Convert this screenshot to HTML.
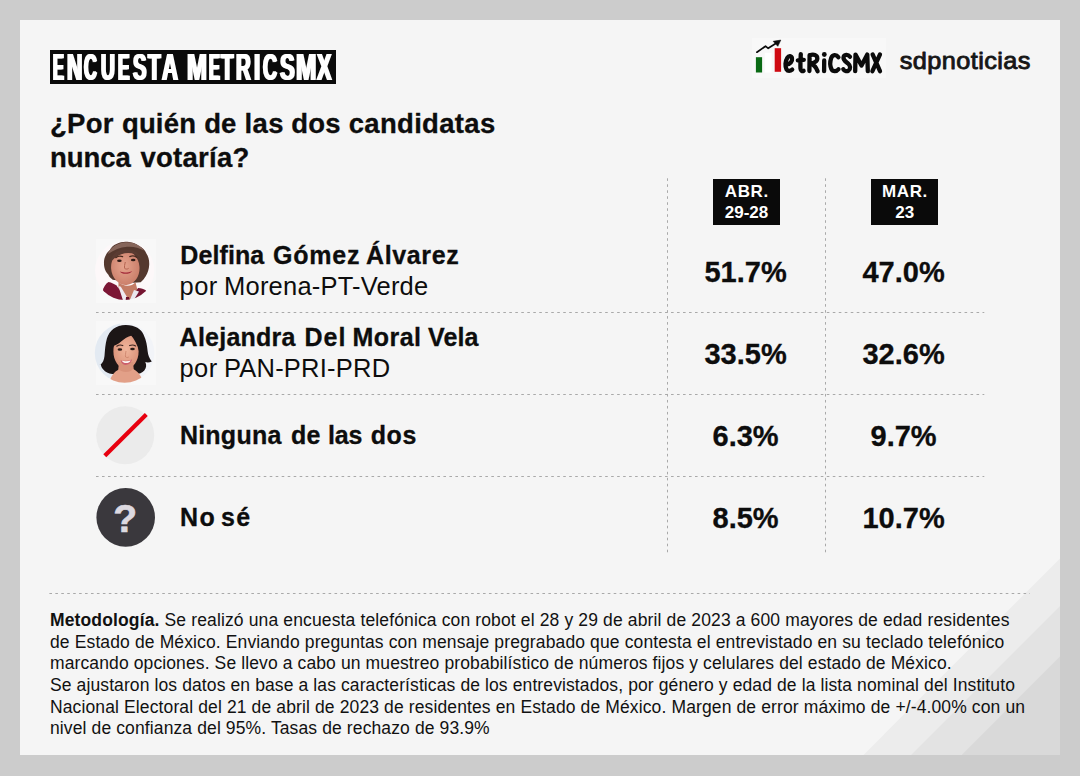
<!DOCTYPE html>
<html lang="es">
<head>
<meta charset="utf-8">
<title>Encuesta MetricsMX</title>
<style>
*{margin:0;padding:0;box-sizing:border-box}
html,body{width:1080px;height:776px;overflow:hidden;background:#cccccc}
body{font-family:"Liberation Sans",sans-serif;color:#0d0d0d;position:relative}
#panel{position:absolute;left:20px;top:20px;width:1040px;height:735px;background:#f5f5f5;overflow:hidden}
#stripes{position:absolute;left:0;top:0;width:1040px;height:735px}
#titlebox{position:absolute;left:50px;top:50px;width:286px;height:34px;background:#0a0a0a;overflow:hidden}
.tw{position:absolute;font-weight:bold;font-size:37px;line-height:1;color:#fff;white-space:nowrap;transform-origin:0 0}
.w{position:absolute;white-space:nowrap;line-height:1}
.wb{font-weight:bold;-webkit-text-stroke:0.3px #0d0d0d}
.wn{font-weight:normal}
#lines{position:absolute;left:0;top:0;width:1080px;height:776px}
.tag{position:absolute;top:178.6px;width:67px;height:46px;background:#0a0a0a;color:#fff;font-weight:bold;font-size:17px;line-height:21.1px;text-align:center;padding-top:2px}
.tag i{font-style:normal;letter-spacing:0.6px;margin-right:-0.6px}
.val{position:absolute;width:140px;text-align:center;font-weight:bold;font-size:29px;line-height:34px;white-space:nowrap;-webkit-text-stroke:0.3px #0d0d0d}
.c1{left:675.6px}
.c2{left:833.6px}
#metod{position:absolute;left:50px;top:609.9px;font-size:17.5px;line-height:21.65px;white-space:nowrap;color:#111;letter-spacing:0.12px}
#metod span{display:block}
</style>
</head>
<body>
<div id="panel">
<svg id="stripes" viewBox="20 20 1040 735">
<polygon points="1060,558.4 1060,755 863.4,755" fill="#ececec"/>
<polygon points="1060,606 1060,755 911,755" fill="#e3e3e3"/>
<polygon points="1060,656.6 1060,755 961.6,755" fill="#d9d9d9"/>
</svg>
</div>

<div id="titlebox"><span class="tw" style="left:3.38px;top:-1.34px;transform:scaleX(0.439);text-shadow:2.16px 0 #fff,-2.16px 0 #fff">E</span><span class="tw" style="left:16.67px;top:-1.34px;transform:scaleX(0.574);text-shadow:1.66px 0 #fff,-1.66px 0 #fff">N</span><span class="tw" style="left:34.35px;top:-1.34px;transform:scaleX(0.479);text-shadow:1.98px 0 #fff,-1.98px 0 #fff">C</span><span class="tw" style="left:50.80px;top:-1.34px;transform:scaleX(0.519);text-shadow:1.83px 0 #fff,-1.83px 0 #fff">U</span><span class="tw" style="left:68.12px;top:-1.34px;transform:scaleX(0.467);text-shadow:2.03px 0 #fff,-2.03px 0 #fff">E</span><span class="tw" style="left:83.19px;top:-1.34px;transform:scaleX(0.545);text-shadow:1.74px 0 #fff,-1.74px 0 #fff">S</span><span class="tw" style="left:98.40px;top:-1.34px;transform:scaleX(0.559);text-shadow:1.70px 0 #fff,-1.70px 0 #fff">T</span><span class="tw" style="left:111.65px;top:-1.34px;transform:scaleX(0.598);text-shadow:1.59px 0 #fff,-1.59px 0 #fff">A</span><span class="tw" style="left:136.70px;top:-1.34px;transform:scaleX(0.647);text-shadow:1.47px 0 #fff,-1.47px 0 #fff">M</span><span class="tw" style="left:159.08px;top:-1.34px;transform:scaleX(0.439);text-shadow:2.16px 0 #fff,-2.16px 0 #fff">E</span><span class="tw" style="left:171.20px;top:-1.34px;transform:scaleX(0.550);text-shadow:1.73px 0 #fff,-1.73px 0 #fff">T</span><span class="tw" style="left:186.22px;top:-1.34px;transform:scaleX(0.553);text-shadow:1.72px 0 #fff,-1.72px 0 #fff">R</span><span class="tw" style="left:203.90px;top:-1.34px;transform:scaleX(0.605);text-shadow:1.57px 0 #fff,-1.57px 0 #fff">I</span><span class="tw" style="left:212.90px;top:-1.34px;transform:scaleX(0.523);text-shadow:1.82px 0 #fff,-1.82px 0 #fff">C</span><span class="tw" style="left:230.16px;top:-1.34px;transform:scaleX(0.597);text-shadow:1.59px 0 #fff,-1.59px 0 #fff">S</span><span class="tw" style="left:245.97px;top:-1.34px;transform:scaleX(0.662);text-shadow:1.44px 0 #fff,-1.44px 0 #fff">M</span><span class="tw" style="left:266.80px;top:-1.34px;transform:scaleX(0.587);text-shadow:1.62px 0 #fff,-1.62px 0 #fff">X</span>
</div>
<svg id="logo" style="position:absolute;left:0;top:0" width="1080" height="100" viewBox="0 0 1080 100">
<rect x="752" y="38" width="134" height="40" fill="#f8f8f8"/>
<rect x="755.900" y="57.200" width="6.200" height="15.300" fill="#0a6a14"/>
<rect x="764.800" y="52.800" width="6.700" height="19.700" fill="#ffffff"/>
<rect x="774.700" y="48.200" width="6.400" height="23.600" fill="#cf0a12"/>
<path d="M756.900 52.200L765.500 46.200L768.200 48.300L776.500 43" stroke="#0b0b0b" stroke-width="1.700" fill="none" stroke-linecap="round" stroke-linejoin="round"/>
<path d="M780.800 40.100L773.200 41.300L777.800 46.300z" fill="#0b0b0b" stroke="#0b0b0b" stroke-width="0.600" stroke-linejoin="round"/>
<g fill="none" stroke="#0b0b0b" stroke-width="4.300" stroke-linecap="round" stroke-linejoin="round">
<!-- e -->
<path d="M786.300 64.500C790 64.300 792.600 61.500 792 58.300C791.500 55.800 788.800 55.400 787.300 57.800C785.300 61 784.800 66.500 786.500 69.300C787.800 71.400 790.300 71.200 792.200 69.600"/>
<!-- t -->
<path d="M800.800 54.200C800.500 59.500 800.300 65 800.500 68.600C800.700 71 802.300 71.500 803.600 70.800M797.800 60.300L803.800 59.800"/>
<!-- R -->
<path d="M809.600 55.200L809.400 71M809.600 55.400C813.500 53.600 817.300 55 817.300 58.400C817.300 61.400 813.800 63 810.400 63.200C813.800 64.500 816.200 67.500 817.600 71.200"/>
<!-- i -->
<path d="M824.200 60.500L824.100 71.200"/>
<path d="M824.300 54.400L824.300 54.500" stroke-width="4.800"/>
<!-- c -->
<path d="M838.400 57.300C836.300 54.300 832.500 54.500 831.200 58C830 61.500 830 66 831.400 69C832.800 71.800 836.500 71.800 838.500 69.200"/>
<!-- S -->
<path d="M850 56.800C848 54.200 844 54.300 843.500 57.500C843.100 60.200 846 61.800 848.200 63.600C850.500 65.500 850.800 69 848.500 70.600C846.600 71.800 844.300 71 843.300 69.200"/>
<!-- M -->
<path d="M855.200 71.200L855.500 54.600L861.500 65.500L867.300 54.600L867.800 71.200"/>
<!-- X -->
<path d="M872.600 54.400L880 71.200M880 54.400L872.400 71.200"/>
</g>
<g transform="translate(899.700 68.500) scale(1.1 1)"><text x="0" y="0" font-family="Liberation Sans, sans-serif" font-size="23" fill="#161616" stroke="#161616" stroke-width="0.850" stroke-linejoin="round" textLength="118.900" lengthAdjust="spacing">sdpnoticias</text></g>
</svg>

<svg id="lines" viewBox="0 0 1080 776" fill="none" stroke="#a9a9a9" stroke-width="1" stroke-dasharray="2.6 3.39">
<path d="M667.5 178.3V553.6M825.5 178.3V553.6"/>
<path d="M96.0 312.5H984.3M96.0 394.5H984.3M96.0 476.5H984.3"/>
<path d="M49.4 593.5H1030" stroke-dasharray="2.6 3.34"/>
</svg>
<svg id="avatars" style="position:absolute;left:0;top:0" width="1080" height="776" viewBox="0 0 1080 776">
<defs>
<clipPath id="cp1"><circle cx="124.7" cy="270.4" r="29.6"/></clipPath>
<clipPath id="cp2"><circle cx="124.6" cy="353" r="29.8"/></clipPath>
<filter id="bl" x="-10%" y="-10%" width="120%" height="120%"><feGaussianBlur stdDeviation="0.55"/></filter>
<filter id="bl2" x="-20%" y="-20%" width="140%" height="140%"><feGaussianBlur stdDeviation="0.5"/></filter>
<radialGradient id="sk1" cx="0.45" cy="0.45" r="0.6"><stop offset="0" stop-color="#e6a48e"/><stop offset="1" stop-color="#c97d68"/></radialGradient>
<radialGradient id="sk2" cx="0.5" cy="0.45" r="0.6"><stop offset="0" stop-color="#f0b59b"/><stop offset="1" stop-color="#d98f76"/></radialGradient>
</defs>
<rect x="96" y="239" width="60" height="64" fill="#f8f8f8"/>
<rect x="96" y="321" width="60" height="64" fill="#f8f8f8"/>
<!-- Delfina -->
<g clip-path="url(#cp1)"><g filter="url(#bl)">
<rect x="90" y="236" width="70" height="70" fill="#fdf8f9"/>
<path d="M104.300 267c-0.800-5-0.200-9 1.600-12 1.200-2.500 2.600-3.800 4-5 1-2.500 3.500-4.800 6.500-6 3.500-1.800 7.500-2.600 11-2.200 4.500 0.200 8.500 1.700 11.500 4.300 3.500 1.500 6 4 7.500 7.500 2.200 3.300 3 7.200 2.800 11.200-0.200 4.500-1.500 8.500-3.500 11.500-1.300 2.300-3 4.300-5 6l-7 0.500-21-3c-2-1.500-3.500-3-4.300-5-2.200-2.300-3.500-4.800-4.100-7.800z" fill="#55382e"/>
<path d="M108 254c2-6 8-10.500 16-11.500 8-1 16 2 20 8-5-3-11-4.200-17-3.700-7 0.600-13 3-19 7.200z" fill="#86655a"/>
<ellipse cx="125.300" cy="267.800" rx="14.200" ry="17.200" fill="url(#sk1)" transform="rotate(-5 125.300 267.800)"/>
<path d="M110.500 262c0.500-6 4-10.500 9.500-12 5-1.500 11-1 15.500 1.500 3 1.500 5 4 5.800 7-3.500-3.500-8-5.500-13-5.500-6.500 0-12 3-17.800 9z" fill="#5a3b30"/>
<path d="M115.800 257.600c2-1.400 4.600-1.700 6.800-0.900M129.800 256.600c2.200-1 4.800-0.700 6.800 0.600" stroke="#46291f" stroke-width="1.300" fill="none" stroke-linecap="round"/>
<ellipse cx="119.400" cy="260.700" rx="2.300" ry="1.200" fill="#2e1a16"/><ellipse cx="133.200" cy="260" rx="2.300" ry="1.200" fill="#2e1a16"/>
<path d="M125.300 262c-0.500 2.500-1.200 4.800-0.600 6.400 1.100 0.900 2.800 0.900 3.900 0" stroke="#b3624f" stroke-width="1" fill="none"/>
<path d="M119.800 271.600c2.800 1.200 8.600 1.100 12.400-0.700-1.800 3.400-10 4.200-12.400 0.700z" fill="#a32a3a"/>
<path d="M118.500 282c2.200 2.600 6 3.800 9 3.800 3 0 6-1.200 8-3.600l2.500 10-10 9.500-9.500-9.500z" fill="#c47b65"/>
<path d="M102.500 291.500c1-4.500 3.200-8 6-9.500 3 0.500 6 2 8 3.500l10.500 14.500 1 3-28 0z" fill="#7c1634"/>
<path d="M138 288c3 0 6 1 8 2.500l1 6-13 7-5-1z" fill="#741330"/>
<path d="M118.500 286.500c1-0.500 2-0.500 2.500 0.500l7.500 12.500-2 3.500-3-1z" fill="#efeaf1"/>
<path d="M134 290l5 1.500-5.500 9-4.500 1.500z" fill="#e9e6ee"/>
<path d="M126 297l3 0 1.500 6-5 0z" fill="#6a1029"/>
</g></g>
<!-- Alejandra -->
<g clip-path="url(#cp2)"><g filter="url(#bl)">
<rect x="90" y="318" width="70" height="70" fill="#f2f4f8"/>
<rect x="90" y="318" width="30" height="60" fill="#e3eaf2"/>
<path d="M100 365c3-2 4-5 4.500-9 0.500-6 0.800-12 2.400-17.400 2.500-8 9-13.600 18.800-13.600 9.800 0 15.500 4.500 17.800 9.400 3 6 3.600 11.600 4.100 16.700 0.500 4 1.500 7.500 4.200 10.400-2 1-4.500 1.200-6.500 0.600 1.500 3 1 6-1 8.500-2 2.500-5.500 3.500-8 3.500l-24 0c-4-0.500-7-2-9-4.500-2-2.500-2.500-4-2.300-5.600-1 0.600-1.500 1-1 1z" fill="#1b1315"/>
<ellipse cx="126" cy="351.200" rx="12.600" ry="17.600" fill="url(#sk2)"/>
<path d="M113.200 346c0.500-8 5-14 12-14.500 4-0.300 7 1 9.500 3.500-4 0.500-8 2-11 4.500-3 2.500-6 5-10.500 6.500z" fill="#1b1315"/>
<path d="M130 334c4 1.500 7.500 5 9 11 0.300 2 0.300 4 0 6-1.500-6-4.500-12-9-17z" fill="#1b1315"/>
<path d="M119 362l14 0 1 10-16 0z" fill="#d8927a"/><path d="M109 385c1-8 4.500-13 10-15.500 1.500 1.500 4 2.500 7 2.500 3 0 5.500-1 7-3 5.500 2.500 9.500 8 10.500 16z" fill="#e2a088"/>
<path d="M116.800 346.200c1.800-1.200 4.200-1.400 6-0.600M129.600 345.600c2-0.900 4.400-0.700 6 0.400" stroke="#3b2420" stroke-width="1.100" fill="none" stroke-linecap="round"/>
<ellipse cx="119.900" cy="349.400" rx="2.300" ry="1.250" fill="#2a1a18"/><ellipse cx="132.500" cy="349.100" rx="2.300" ry="1.250" fill="#2a1a18"/>
<path d="M126 351c-0.400 2.500-0.800 4.500-0.400 6 1 0.700 2.300 0.700 3.200 0" stroke="#c98068" stroke-width="0.800" fill="none"/>
<path d="M120.500 360.200c3 1 8.500 0.800 11.500-0.600-1 3.800-4 5.400-6.200 5.400-2.300 0-4.500-1.600-5.300-4.800z" fill="#cc5f6c"/>
<path d="M121.800 360.800c2.500 0.700 6.500 0.600 9-0.300-0.800 1.800-2.800 2.600-4.600 2.600-1.800 0-3.600-0.800-4.400-2.300z" fill="#fbf3f0"/>
</g></g>
<!-- Ninguna -->
<circle cx="125.200" cy="435.200" r="29" fill="#ebebeb"/>
<path d="M104.800 455.800L146.300 414.600" stroke="#e8000f" stroke-width="4.200" fill="none"/>
<!-- No se -->
<circle cx="125.700" cy="517.400" r="29.300" fill="#3a383d"/>
<text x="125.200" y="532" text-anchor="middle" font-family="Liberation Sans, sans-serif" font-weight="bold" font-size="39" fill="#dcd9e0" stroke="#dcd9e0" stroke-width="0.700">?</text>
</svg>

<div class="tag" style="left:713px"><i>ABR.</i><br>29-28</div>
<div class="tag" style="left:871.2px"><i>MAR.</i><br>23</div>

<span class="w wb" style="left:49.91px;top:110.00px;font-size:27.5px;letter-spacing:0.313px">¿Por</span>
<span class="w wb" style="left:121.94px;top:110.00px;font-size:27.5px;letter-spacing:0.165px">quién</span>
<span class="w wb" style="left:204.24px;top:110.00px;font-size:27.5px;letter-spacing:0.052px">de</span>
<span class="w wb" style="left:244.38px;top:110.00px;font-size:27.5px;letter-spacing:0.452px">las</span>
<span class="w wb" style="left:291.14px;top:110.00px;font-size:27.5px;letter-spacing:0.242px">dos</span>
<span class="w wb" style="left:348.74px;top:110.00px;font-size:27.5px;letter-spacing:0.312px">candidatas</span>
<span class="w wb" style="left:50.08px;top:143.70px;font-size:27.5px;letter-spacing:-0.085px">nunca</span>
<span class="w wb" style="left:140.50px;top:143.70px;font-size:27.5px;letter-spacing:0.250px">votaría?</span>
<span class="w wb" style="left:180.30px;top:243.02px;font-size:25px;letter-spacing:0.092px">Delfina</span>
<span class="w wb" style="left:273.10px;top:243.02px;font-size:25px;letter-spacing:0.763px">Gómez</span>
<span class="w wb" style="left:366.10px;top:243.02px;font-size:25px;letter-spacing:0.610px">Álvarez</span>
<span class="w wn" style="left:179.60px;top:273.69px;font-size:25.5px;letter-spacing:0.368px">por</span>
<span class="w wn" style="left:224.10px;top:273.69px;font-size:25.5px;letter-spacing:0.202px">Morena-PT-Verde</span>
<span class="w wb" style="left:179.60px;top:325.42px;font-size:25px;letter-spacing:0.247px">Alejandra</span>
<span class="w wb" style="left:304.60px;top:325.42px;font-size:25px;letter-spacing:0.921px">Del</span>
<span class="w wb" style="left:352.60px;top:325.42px;font-size:25px;letter-spacing:0.443px">Moral</span>
<span class="w wb" style="left:428.00px;top:325.42px;font-size:25px;letter-spacing:0.118px">Vela</span>
<span class="w wn" style="left:179.50px;top:356.09px;font-size:25.5px;letter-spacing:0.418px">por</span>
<span class="w wn" style="left:223.90px;top:356.09px;font-size:25.5px;letter-spacing:0.235px">PAN-PRI-PRD</span>
<span class="w wb" style="left:179.90px;top:422.82px;font-size:25px;letter-spacing:0.236px">Ninguna</span>
<span class="w wb" style="left:290.90px;top:422.82px;font-size:25px;letter-spacing:0.429px">de</span>
<span class="w wb" style="left:327.90px;top:422.82px;font-size:25px;letter-spacing:-0.175px">las</span>
<span class="w wb" style="left:370.80px;top:422.82px;font-size:25px;letter-spacing:0.529px">dos</span>
<span class="w wb" style="left:180.00px;top:505.32px;font-size:25px;letter-spacing:1.346px">No</span>
<span class="w wb" style="left:221.10px;top:505.32px;font-size:25px;letter-spacing:1.296px">sé</span>

<div class="val c1" style="top:255px">51.7%</div>
<div class="val c2" style="top:255px">47.0%</div>
<div class="val c1" style="top:337px">33.5%</div>
<div class="val c2" style="top:337px">32.6%</div>
<div class="val c1" style="top:419.4px">6.3%</div>
<div class="val c2" style="top:419.4px">9.7%</div>
<div class="val c1" style="top:501.4px">8.5%</div>
<div class="val c2" style="top:501.4px">10.7%</div>

<div id="metod"><span style="letter-spacing:0.135px"><b>Metodología.</b> Se realizó una encuesta telefónica con robot el 28 y 29 de abril de 2023 a 600 mayores de edad residentes</span><span style="letter-spacing:0.126px">de Estado de México. Enviando preguntas con mensaje pregrabado que contesta el entrevistado en su teclado telefónico</span><span style="letter-spacing:0.113px">marcando opciones. Se llevo a cabo un muestreo probabilístico de números fijos y celulares del estado de México.</span><span style="letter-spacing:0.108px">Se ajustaron los datos en base a las características de los entrevistados, por género y edad de la lista nominal del Instituto</span><span style="letter-spacing:0.122px">Nacional Electoral del 21 de abril de 2023 de residentes en Estado de México. Margen de error máximo de +/-4.00% con un</span><span style="letter-spacing:0.117px">nivel de confianza del 95%. Tasas de rechazo de 93.9%</span></div>

</body>
</html>
